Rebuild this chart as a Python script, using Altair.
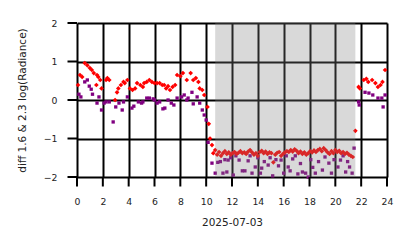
import altair as alt
import pandas as pd

# ---- data ----
red_hours = [0.08, 0.23, 0.4, 0.6, 0.8, 1.0, 1.15, 1.3, 1.5, 1.55, 1.65, 1.8, 1.9, 2.25, 2.35, 2.5,
             2.95, 3.1, 3.2, 3.4, 3.6, 3.7, 3.9, 4.1, 4.3, 4.5, 4.65, 4.9, 5.1, 5.2, 5.4, 5.6, 5.8,
             6.0, 6.2, 6.4, 6.6, 6.75, 6.9, 7.05, 7.2, 7.4, 7.6, 7.75, 8.0, 8.2, 8.5, 8.8, 9.0, 9.2,
             9.4, 9.5, 9.7, 9.85, 10.1, 10.2, 10.3, 10.45, 10.55,
             10.7, 10.85, 11.0, 11.15, 11.3, 11.45, 11.6, 11.75, 11.9, 12.05, 12.2, 12.35, 12.5, 12.65,
             12.8, 12.95, 13.1, 13.25, 13.4, 13.55, 13.7, 13.85, 14.0, 14.15, 14.3, 14.45, 14.6, 14.75,
             14.9, 15.05, 15.2, 15.35, 15.5, 15.65, 15.8, 15.95, 16.1, 16.25, 16.4, 16.55, 16.7, 16.85,
             17.0, 17.15, 17.3, 17.45, 17.6, 17.75, 17.9, 18.05, 18.2, 18.35, 18.5, 18.65, 18.8, 18.95,
             19.1, 19.25, 19.4, 19.55, 19.7, 19.85, 20.0, 20.15, 20.3, 20.45, 20.6, 20.75, 20.9, 21.05,
             21.2, 21.35, 21.55,
             21.8, 21.9, 22.2, 22.4, 22.55, 22.85, 23.1, 23.3, 23.5, 23.65, 23.85]
red_values = [0.39, 0.65, 0.6, 0.96, 0.9, 0.83, 0.78, 0.7, 0.39, 0.65, 0.6, 0.52, 0.3, 0.52, 0.57, 0.52,
              0.0, 0.2, 0.3, 0.39, 0.47, 0.44, 0.52, 0.3, 0.26, 0.3, 0.44, 0.39, 0.34, 0.44, 0.47, 0.52, 0.47,
              0.44, 0.44, 0.44, 0.39, 0.39, 0.3, 0.36, 0.26, 0.34, 0.39, 0.65, 0.62, 0.7, 0.52, 0.7, 0.52, 0.57,
              0.47, 0.3, 0.26, 0.13, -0.18, -0.62, -1.0, -1.17, -1.38,
              -1.30, -1.42, -1.35, -1.45, -1.38, -1.33, -1.40, -1.36, -1.42, -1.38, -1.35, -1.40, -1.37, -1.33,
              -1.38, -1.36, -1.40, -1.34, -1.30, -1.36, -1.42, -1.38, -1.45, -1.35, -1.32, -1.38, -1.34, -1.40,
              -1.36, -1.38, -1.62, -1.42, -1.37, -1.35, -1.45, -1.40, -1.36, -1.33, -1.35, -1.30, -1.34, -1.28,
              -1.32, -1.38, -1.34, -1.40, -1.36, -1.42, -1.38, -1.33, -1.36, -1.31, -1.35, -1.30, -1.27, -1.33,
              -1.25, -1.30, -1.36, -1.40, -1.33, -1.38, -1.30, -1.35, -1.32, -1.38, -1.35, -1.40, -1.37, -1.42,
              -1.45, -1.48, -0.8,
              0.34, 0.3, 0.52, 0.55, 0.47, 0.52, 0.44, 0.34, 0.39, 0.47, 0.78]

purple_hours = [0.15, 0.3, 0.6, 0.8, 0.95, 1.1, 1.2, 1.55, 1.7, 1.9, 2.1, 2.25, 2.5, 2.8, 3.0, 3.25,
                3.5, 3.6, 3.9, 4.25, 4.4, 4.75, 5.0, 5.1, 5.4, 5.6, 5.9, 6.0, 6.2, 6.4, 6.65, 6.8, 7.05,
                7.3, 7.5, 7.75, 8.1, 8.3, 8.5, 8.6, 8.9, 9.0, 9.3, 9.5, 9.7, 9.85, 10.0, 10.15,
                10.45, 10.7, 10.9, 11.1, 11.3, 11.45, 11.6, 11.7, 11.9, 12.1, 12.3, 12.55, 12.8, 13.0,
                13.25, 13.4, 13.55, 13.8, 14.0, 14.2, 14.3, 14.5, 14.8, 14.95, 15.15, 15.4, 15.6, 15.8,
                16.0, 16.2, 16.35, 16.5, 16.7, 16.9, 17.1, 17.3, 17.45, 17.7, 17.9, 18.1, 18.25, 18.45,
                18.7, 19.0, 19.2, 19.5, 19.7, 19.9, 20.2, 20.4, 20.6, 20.8, 20.95, 21.1, 21.3, 21.45,
                21.8, 21.85, 22.3, 22.6, 22.9, 23.3, 23.6, 23.7, 23.85]
purple_values = [0.15, 0.08, 0.47, 0.52, 0.36, 0.28, 0.15, -0.08, 0.08, -0.26, -0.08, -0.05, -0.05, -0.57,
                 -0.18, -0.08, -0.26, -0.05, 0.08, -0.21, -0.16, -0.05, -0.08, -0.05, 0.05, 0.05, 0.03, 0.0,
                 -0.08, -0.05, -0.23, -0.21, 0.0, -0.08, -0.13, 0.05, 0.08, 0.13, 0.0, 0.05, 0.2, -0.1,
                 0.08, -0.08, -0.26, -0.39, -0.52, -1.1,
                 -1.64, -1.9, -1.62, -1.6, -1.9, -1.55, -1.87, -1.56, -1.5, -1.95, -1.45, -1.56, -1.84, -1.84,
                 -1.58, -1.45, -1.9, -1.74, -1.5, -1.9, -1.77, -1.6, -1.69, -1.5, -1.97, -1.55, -1.71, -1.56,
                 -1.9, -1.45, -1.74, -1.84, -1.53, -1.45, -1.92, -1.65, -1.87, -1.9, -2.0, -1.55, -1.75, -1.9,
                 -1.6, -1.82, -1.48, -1.64, -1.9, -1.55, -1.74, -1.56, -1.45, -1.87, -1.6, -1.74, -1.9, -1.25,
                 -0.05, -0.13, 0.2, 0.18, 0.13, 0.05, 0.05, -0.18, 0.13]

night_start = [10.7]
night_end = [21.55]

x_ticks = [0, 2, 4, 6, 8, 10, 12, 14, 16, 18, 20, 22, 24]
y_ticks = [-2, -1, 0, 1, 2]

red_df = pd.DataFrame({"hour": red_hours, "value": red_values})
purple_df = pd.DataFrame({"hour": purple_hours, "value": purple_values})
night_df = pd.DataFrame({"start": night_start, "end": night_end})
xt_df = pd.DataFrame({"t": x_ticks})
yt_df = pd.DataFrame({"t": y_ticks})

PLOT_W, PLOT_H = 310, 154
TICK = 9.5

x_scale = alt.Scale(domain=[0, 24], nice=False, zero=False)
y_scale = alt.Scale(domain=[-2, 2], nice=False, zero=False)

x_axis = alt.Axis(values=x_ticks, title="2025-07-03", grid=True, gridColor="black",
                  gridWidth=2, gridOpacity=1, domain=False, ticks=False,
                  labelFont="DejaVu Sans", labelFontSize=9.3, labelColor="#222", labelPadding=20,
                  labelOverlap=False, labelFlush=False,
                  titleFont="DejaVu Sans", titleFontSize=10.5, titleFontWeight="normal",
                  titleColor="#222", titleX=PLOT_W / 2, titleY=45, titleBaseline="middle",
                  titleAlign="center")
y_axis = alt.Axis(values=y_ticks, title="diff 1.6 & 2.3  log(Radiance)", grid=True,
                  gridColor="black", gridWidth=2, gridOpacity=1, domain=False, ticks=False,
                  labelFont="DejaVu Sans", labelFontSize=9.3, labelColor="#222", labelPadding=20,
                  labelOverlap=False, labelFlush=False,
                  titleFont="DejaVu Sans", titleFontSize=10.5, titleFontWeight="normal",
                  titleColor="#222", titleX=-54.5, titleY=PLOT_H / 2, titleBaseline="middle",
                  titleAlign="center", titleAngle=270)

purple_layer = alt.Chart(purple_df).mark_point(shape="square", filled=True, size=11, color="#800080",
                                               opacity=1, strokeWidth=0).encode(
    x=alt.X("hour:Q", scale=x_scale, axis=x_axis),
    y=alt.Y("value:Q", scale=y_scale, axis=y_axis),
)
red_layer = alt.Chart(red_df).mark_point(shape="diamond", filled=True, size=22, color="#ff0000",
                                         opacity=1, strokeWidth=0).encode(
    x=alt.X("hour:Q", scale=x_scale, axis=x_axis),
    y=alt.Y("value:Q", scale=y_scale, axis=y_axis),
)
night_layer = alt.Chart(night_df).mark_rect(color="#808080", opacity=0.3).encode(
    x=alt.X("start:Q", scale=x_scale, axis=x_axis),
    x2="end:Q",
    y=alt.value(0),
    y2=alt.value(PLOT_H),
)
# outward tick marks
xtick_layer = alt.Chart(xt_df).mark_rule(color="black", strokeWidth=2).encode(
    x=alt.X("t:Q", scale=x_scale, axis=x_axis),
    y=alt.value(PLOT_H),
    y2=alt.value(PLOT_H + TICK),
)
ytick_layer = alt.Chart(yt_df).mark_rule(color="black", strokeWidth=2).encode(
    y=alt.Y("t:Q", scale=y_scale, axis=y_axis),
    x=alt.value(-TICK),
    x2=alt.value(0),
)

chart = alt.layer(purple_layer, red_layer, night_layer, xtick_layer, ytick_layer).properties(
    width=PLOT_W, height=PLOT_H,
    autosize="none",
    padding={"left": 77, "top": 23, "right": 27, "bottom": 71},
    background="white",
).configure_view(stroke=None)

chart.save("out.html", embed_options={"renderer": "svg", "actions": False})
